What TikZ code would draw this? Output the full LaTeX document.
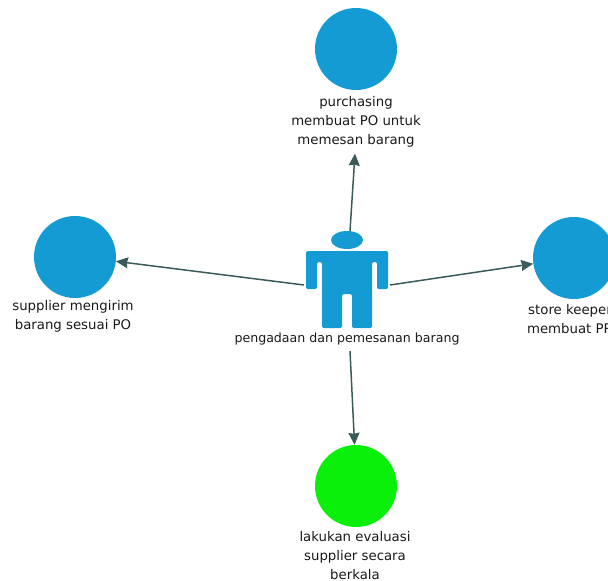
\documentclass[tikz,border=0pt]{standalone}
\usepackage{fontspec}
\setmainfont{DejaVu Sans}
\usetikzlibrary{arrows.meta}
\definecolor{actorblue}{HTML}{159BD3}
\definecolor{goalgreen}{HTML}{0AF00A}
\definecolor{linkgrey}{HTML}{3B5B5B}
\tikzset{
  usecase/.style={circle,fill=actorblue,minimum size=82pt,inner sep=0pt},
  caption/.style={align=center,font=\fontsize{13.3}{19}\selectfont,inner sep=0pt,text=black!90},
  link/.style={linkgrey,line width=1.5pt,-{Stealth[length=12pt,width=11pt,inset=1pt]}}
}
\begin{document}
\begin{tikzpicture}[x=1pt,y=-1pt]
  \useasboundingbox (0,0) rectangle (608,581);
  % the figure in the middle
  \fill [actorblue] (347,240) ellipse [x radius=16,y radius=9];
  \fill [actorblue,rounded corners=1.5pt]
    (306,289) -- (306,251) -- (388,251) -- (388,289) -- (377,289) -- (377,262) -- (372,262)
    -- (372,328) -- (352,328) -- (352,294) -- (342,294) -- (342,328) -- (322,328) -- (322,262)
    -- (317,262) -- (317,289) -- cycle;
  \node [caption,font=\fontsize{12.6}{19}\selectfont] (person text) at (347,339) {pengadaan dan pemesanan barang};
  \coordinate (person top) at (350,231);
  \coordinate (person left) at (304,285);
  \coordinate (person right) at (390,285);
  \coordinate (person bottom) at (350,351);
  % the four use cases
  \node [usecase] (purchasing) at (356,49) {};
  \node [caption] (purchasing text) at (356,122) {purchasing\\membuat PO untuk\\memesan barang};
  \node [usecase] (supplier) at (75,257) {};
  \node [caption] (supplier text) at (73,316) {supplier mengirim\\barang sesuai PO};
  \node [usecase] (store) at (574,258) {};
  \node [caption] (store text) at (570,319) {store keeper\\membuat PR};
  \node [usecase,fill=goalgreen] (evaluasi) at (356,486) {};
  \node [caption] (evaluasi text) at (355,555.5) {lakukan evaluasi\\supplier secara\\berkala};
  % links
  \draw [link] (person top) -- ([xshift=-1pt,yshift=-6pt]purchasing text.south);
  \draw [link] (person left) -- (supplier.-6);
  \draw [link] (person right) -- (store.188);
  \draw [link] (person bottom) -- (evaluasi.92);
\end{tikzpicture}
\end{document}
